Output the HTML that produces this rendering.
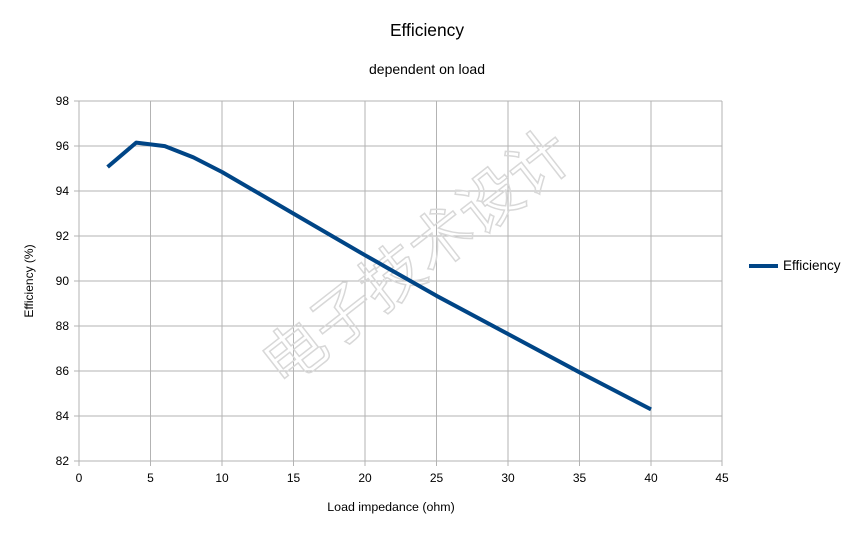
<!DOCTYPE html>
<html><head><meta charset="utf-8"><style>
body{margin:0;background:#fff;}
svg text{font-family:"Liberation Sans","Noto Sans CJK SC",sans-serif;}
</style></head><body>
<svg width="854" height="533" xmlns="http://www.w3.org/2000/svg">
<rect width="854" height="533" fill="#fff"/>
<text x="427" y="36" font-size="17.4" text-anchor="middle" fill="#000">Efficiency</text>
<text x="427" y="74" font-size="14" text-anchor="middle" fill="#000">dependent on load</text>
<g stroke="#b3b3b3" stroke-width="1">
<line x1="79" y1="101" x2="722" y2="101"/><line x1="79" y1="146" x2="722" y2="146"/>
<line x1="79" y1="191" x2="722" y2="191"/><line x1="79" y1="236" x2="722" y2="236"/>
<line x1="79" y1="281" x2="722" y2="281"/><line x1="79" y1="326" x2="722" y2="326"/>
<line x1="79" y1="371" x2="722" y2="371"/><line x1="79" y1="416" x2="722" y2="416"/>
<line x1="79" y1="461" x2="722" y2="461"/>
<line x1="79" y1="101" x2="79" y2="466"/><line x1="150.5" y1="101" x2="150.5" y2="466"/>
<line x1="222" y1="101" x2="222" y2="466"/><line x1="293.5" y1="101" x2="293.5" y2="466"/>
<line x1="365" y1="101" x2="365" y2="466"/><line x1="436.5" y1="101" x2="436.5" y2="466"/>
<line x1="508" y1="101" x2="508" y2="466"/><line x1="579.5" y1="101" x2="579.5" y2="466"/>
<line x1="651" y1="101" x2="651" y2="466"/><line x1="722" y1="101" x2="722" y2="466"/>
<line x1="74" y1="101" x2="79" y2="101"/><line x1="74" y1="146" x2="79" y2="146"/><line x1="74" y1="191" x2="79" y2="191"/><line x1="74" y1="236" x2="79" y2="236"/><line x1="74" y1="281" x2="79" y2="281"/><line x1="74" y1="326" x2="79" y2="326"/><line x1="74" y1="371" x2="79" y2="371"/><line x1="74" y1="416" x2="79" y2="416"/><line x1="74" y1="461" x2="79" y2="461"/>
</g>
<g font-size="12" fill="#000" text-anchor="end">
<text x="69" y="105">98</text><text x="69" y="150">96</text><text x="69" y="195">94</text><text x="69" y="240">92</text><text x="69" y="285">90</text><text x="69" y="330">88</text><text x="69" y="375">86</text><text x="69" y="420">84</text><text x="69" y="465">82</text>
</g>
<g font-size="12" fill="#000" text-anchor="middle">
<text x="79" y="482">0</text><text x="150.5" y="482">5</text><text x="222" y="482">10</text><text x="293.5" y="482">15</text><text x="365" y="482">20</text><text x="436.5" y="482">25</text><text x="508" y="482">30</text><text x="579.5" y="482">35</text><text x="651" y="482">40</text><text x="722" y="482">45</text>
</g>
<text x="391" y="511" font-size="12.4" text-anchor="middle">Load impedance (ohm)</text>
<text transform="translate(33,281) rotate(-90)" font-size="12" text-anchor="middle">Efficiency (%)</text>
<text transform="translate(430,275) rotate(-38)" font-size="62" text-anchor="middle" fill="none" stroke="#d8d8d8" stroke-width="1.5">电子技术设计</text>
<polyline fill="none" stroke="#004586" stroke-width="4" stroke-linejoin="round" points="107.6,167 136.2,142.6 164.8,146.1 193.4,157.4 222,172 293.5,213.6 365,255.2 436.5,295.8 508,334 579.5,372.3 651,409.4"/>
<line x1="749" y1="266" x2="778" y2="266" stroke="#004586" stroke-width="4"/>
<text x="783" y="270" font-size="13.5">Efficiency</text>
</svg>
</body></html>
